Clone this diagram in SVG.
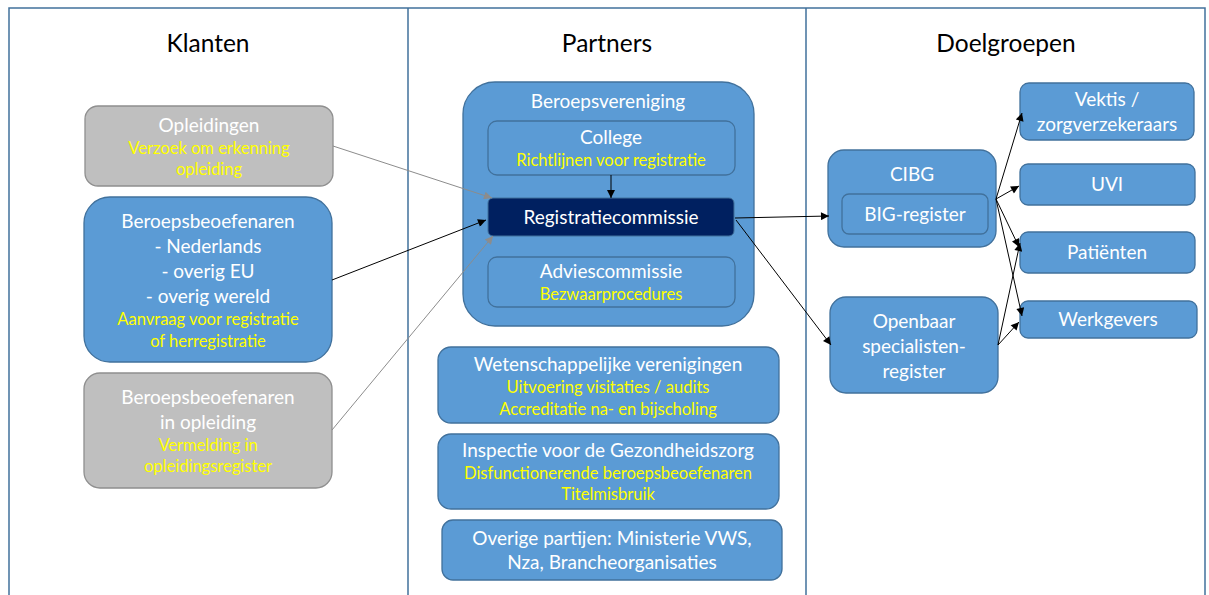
<svg xmlns="http://www.w3.org/2000/svg" width="1209" height="595" viewBox="0 0 1209 595">
<defs>
<marker id="ab" viewBox="0 0 10 10" refX="10" refY="5" markerWidth="10" markerHeight="8" markerUnits="userSpaceOnUse" orient="auto"><path d="M0,0 L10,5 L0,10 z" fill="#000"/></marker>
<marker id="ag" viewBox="0 0 10 10" refX="10" refY="5" markerWidth="10" markerHeight="8" markerUnits="userSpaceOnUse" orient="auto"><path d="M0,0 L10,5 L0,10 z" fill="#8c8c8c"/></marker>
<style>
text{font-family:Lato,"Liberation Sans",sans-serif;text-anchor:middle;font-size:19px;fill:#fff}
.h{fill:#000;font-size:24.5px}
.y{fill:#ffff00;font-size:16.5px}
.b{fill:#5b9bd5;stroke:#41719c;stroke-width:1.3}
.g{fill:#bfbfbf;stroke:#8f8f8f;stroke-width:1.3}
.n{fill:#002060;stroke:#41719c;stroke-width:1}
.fr{fill:none;stroke:#41719c;stroke-width:1.5}
.cb{stroke:#000;stroke-width:1;fill:none;marker-end:url(#ab)}
.cg{stroke:#8c8c8c;stroke-width:1;fill:none;marker-end:url(#ag)}
</style>
</defs>
<g id="frame">
<path class="fr" d="M9,595 V8 H1205 V595 M408,8 V595 M806,8 V595"/>
<text class="h" x="208" y="52">Klanten</text>
<text class="h" x="607" y="52">Partners</text>
<text class="h" x="1006" y="52">Doelgroepen</text>
</g>
<g id="opleidingen">
<rect class="g" x="85" y="106" width="248" height="80" rx="13"/>
<text x="209" y="132">Opleidingen</text>
<text class="y" x="209" y="154">Verzoek om erkenning</text>
<text class="y" x="209" y="175">opleiding</text>
</g>
<g id="beroepsbeoefenaren">
<rect class="b" x="84" y="197" width="248" height="165" rx="26"/>
<text x="208" y="228">Beroepsbeoefenaren</text>
<text x="208" y="253">- Nederlands</text>
<text x="208" y="278">- overig EU</text>
<text x="208" y="303">- overig wereld</text>
<text class="y" x="208" y="325">Aanvraag voor registratie</text>
<text class="y" x="208" y="347">of herregistratie</text>
</g>
<g id="inopleiding">
<rect class="g" x="84" y="373" width="248" height="115" rx="16"/>
<text x="208" y="404">Beroepsbeoefenaren</text>
<text x="208" y="429">in opleiding</text>
<text class="y" x="208" y="451">Vermelding in</text>
<text class="y" x="208" y="472">opleidingsregister</text>
</g>
<g id="beroepsvereniging">
<rect class="b" x="463" y="82" width="291" height="244" rx="32"/>
<text x="608" y="108">Beroepsvereniging</text>
</g>
<g id="college">
<rect class="b" x="488" y="121" width="247" height="54" rx="9"/>
<text x="611" y="144">College</text>
<text class="y" x="611" y="166">Richtlijnen voor registratie</text>
</g>
<g id="registratiecommissie">
<rect class="n" x="488" y="198" width="246" height="38" rx="5"/>
<text x="611" y="224">Registratiecommissie</text>
</g>
<g id="adviescommissie">
<rect class="b" x="488" y="257" width="247" height="50" rx="9"/>
<text x="611" y="278">Adviescommissie</text>
<text class="y" x="611" y="300">Bezwaarprocedures</text>
</g>
<g id="wetenschappelijk">
<rect class="b" x="438" y="347" width="341" height="76" rx="13"/>
<text x="608" y="371">Wetenschappelijke verenigingen</text>
<text class="y" x="608" y="393">Uitvoering visitaties / audits</text>
<text class="y" x="608" y="415">Accreditatie na- en bijscholing</text>
</g>
<g id="inspectie">
<rect class="b" x="438" y="434" width="341" height="75" rx="13"/>
<text x="608" y="457">Inspectie voor de Gezondheidszorg</text>
<text class="y" x="608" y="479">Disfunctionerende beroepsbeoefenaren</text>
<text class="y" x="608" y="500">Titelmisbruik</text>
</g>
<g id="overige">
<rect class="b" x="442" y="520" width="340" height="60" rx="11"/>
<text x="612" y="545">Overige partijen: Ministerie VWS,</text>
<text x="612" y="569">Nza, Brancheorganisaties</text>
</g>
<g id="cibg">
<rect class="b" x="828" y="150" width="168" height="97" rx="16"/>
<text x="912" y="181">CIBG</text>
<rect class="b" x="842" y="194" width="146" height="40" rx="7"/>
<text x="915" y="221">BIG-register</text>
</g>
<g id="openbaar">
<rect class="b" x="830" y="297" width="168" height="96" rx="16"/>
<text x="914" y="328">Openbaar</text>
<text x="914" y="353">specialisten-</text>
<text x="914" y="378">register</text>
</g>
<g id="vektis">
<rect class="b" x="1020" y="83" width="174" height="57" rx="9"/>
<text x="1107" y="106">Vektis /</text>
<text x="1107" y="131">zorgverzekeraars</text>
</g>
<g id="uvi">
<rect class="b" x="1020" y="164" width="175" height="41" rx="8"/>
<text x="1107" y="191">UVI</text>
</g>
<g id="patienten">
<rect class="b" x="1020" y="232" width="175" height="41" rx="8"/>
<text x="1107" y="259">Patiënten</text>
</g>
<g id="werkgevers">
<rect class="b" x="1020" y="301" width="177" height="37" rx="8"/>
<text x="1108" y="326">Werkgevers</text>
</g>
<g id="connectors">
<line class="cg" x1="333" y1="146" x2="492" y2="198"/>
<line class="cb" x1="332" y1="280" x2="486" y2="220"/>
<line class="cg" x1="332" y1="430" x2="493" y2="236"/>
<line class="cb" x1="611" y1="175" x2="611" y2="198"/>
<line class="cb" x1="735" y1="218" x2="829" y2="216"/>
<line class="cb" x1="736" y1="220" x2="831" y2="345"/>
<line class="cb" x1="996" y1="199" x2="1022" y2="113"/>
<line class="cb" x1="996" y1="199" x2="1019" y2="186"/>
<line class="cb" x1="996" y1="199" x2="1019" y2="247"/>
<line class="cb" x1="996" y1="199" x2="1022" y2="316"/>
<line class="cb" x1="998" y1="345" x2="1020" y2="243"/>
<line class="cb" x1="998" y1="345" x2="1019" y2="322"/>
</g>
</svg>
